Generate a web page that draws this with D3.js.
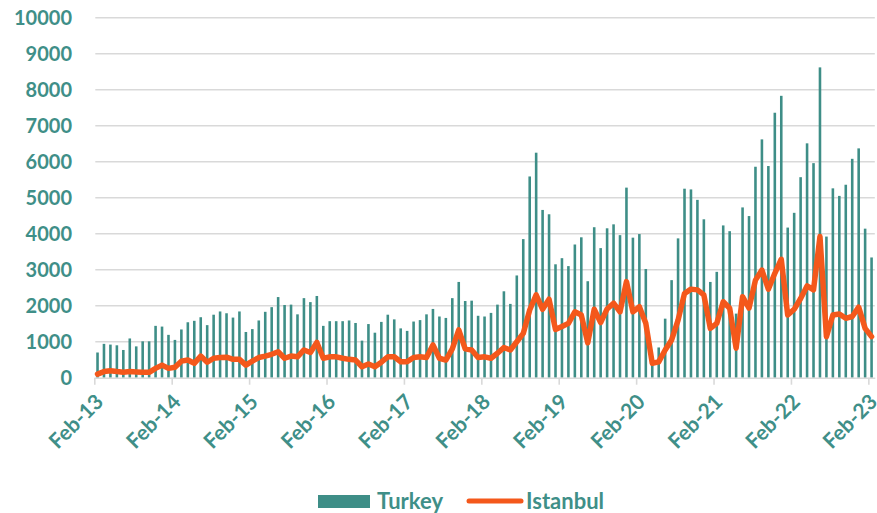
<!DOCTYPE html>
<html>
<head>
<meta charset="utf-8">
<script src="https://cdn.jsdelivr.net/npm/d3@7"></script>
<style>
  body { margin: 0; background: #fff; }
  svg { display: block; font-family: Lato, "Open Sans", sans-serif; }
</style>
</head>
<body>
<svg id="chart" width="877" height="513"></svg>
<script>
// monthly, Feb-13 .. Feb-23
const months = d3.utcMonth.range(new Date(Date.UTC(2013, 1, 1)), new Date(Date.UTC(2023, 2, 1)));

const turkey = [
  700, 940, 920, 900, 770, 1090, 870, 1010, 1010, 1440, 1420, 1190,
  1050, 1340, 1540, 1580, 1680, 1460, 1750, 1840, 1790, 1670, 1840, 1270,
  1350, 1590, 1830, 1960, 2240, 2020, 2030, 1760, 2210, 2100, 2270, 1440,
  1570, 1570, 1570, 1590, 1520, 1030, 1490, 1250, 1550, 1750, 1620, 1370,
  1300, 1560, 1600, 1760, 1910, 1700, 1660, 2210, 2660, 2130, 2140, 1720,
  1700, 1800, 2030, 2400, 2050, 2840, 3850, 5590, 6250, 4660, 4540, 3150,
  3320, 3100, 3700, 3900, 2680, 4180, 3600, 4150, 4260, 3960, 5280, 3890,
  3990, 3020, 380, 840, 1640, 2710, 3870, 5250, 5230, 4940, 4400, 2660,
  2940, 4230, 4070, 1780, 4730, 4490, 5860, 6620, 5880, 7360, 7830, 4170,
  4580, 5570, 6510, 5960, 8620, 3920, 5260, 5050, 5360, 6080, 6370, 4140,
  3340
];

const istanbul = [
  100, 170, 195, 170, 150, 170, 160, 150, 150, 260, 350, 260,
  290, 460, 490, 400, 600, 430, 540, 560, 570, 510, 510, 350,
  460, 560, 600, 650, 720, 540, 600, 580, 770, 700, 980, 540,
  580, 580, 540, 510, 490, 305, 380, 305, 430, 580, 580, 445,
  445, 560, 580, 560, 910, 540, 490, 800, 1330, 800, 770, 560,
  580, 540, 680, 840, 770, 1000, 1230, 1880, 2300, 1900, 2180, 1340,
  1420, 1510, 1830, 1740, 970, 1900, 1530, 1910, 2070, 1830, 2670, 1830,
  1970, 1510, 400, 440, 770, 1050, 1600, 2340, 2460, 2440, 2300, 1370,
  1510, 2110, 1930, 820, 2250, 1930, 2710, 2990, 2460, 2900, 3290, 1740,
  1900, 2200, 2550, 2440, 3920, 1140, 1740, 1770, 1650, 1700, 1960, 1370,
  1140
];

const yTicks = [0, 1000, 2000, 3000, 4000, 5000, 6000, 7000, 8000, 9000, 10000];
const xTickLabels = ["Feb-13", "Feb-14", "Feb-15", "Feb-16", "Feb-17", "Feb-18",
  "Feb-19", "Feb-20", "Feb-21", "Feb-22", "Feb-23"];
const seriesNames = ["Turkey", "Istanbul"];

const teal = "#3e8e87";
const orange = "#f4581b";
const textColor = "#3f8f88";
const gridColor = "#d9d9d9";

const svg = d3.select("#chart");
const plotLeft = 94.3, plotRight = 874.8, plotTop = 17.7, plotBottom = 377.7;

const x = d3.scaleBand()
  .domain(d3.range(months.length))
  .range([plotLeft, plotRight])
  .paddingInner(0.6)
  .paddingOuter(0.3);

// category boundaries, for ticks at each February
const xEdge = d3.scaleLinear().domain([0, months.length]).range([plotLeft, plotRight]);

const y = d3.scaleLinear().domain([0, 10000]).range([plotBottom, plotTop]);

// gridlines
svg.append("g")
  .selectAll("line")
  .data(yTicks.filter(d => d > 0))
  .join("line")
  .attr("x1", plotLeft + 1)
  .attr("x2", plotRight)
  .attr("y1", d => y(d))
  .attr("y2", d => y(d))
  .attr("stroke", gridColor)
  .attr("stroke-width", 1.6);

// y labels
svg.append("g")
  .selectAll("text")
  .data(yTicks)
  .join("text")
  .attr("x", 72)
  .attr("y", d => y(d))
  .attr("dy", "0.36em")
  .attr("text-anchor", "end")
  .attr("fill", textColor)
  .attr("font-weight", 700)
  .attr("font-size", 20)
  .text(d => d);

// bars
svg.append("g")
  .selectAll("rect")
  .data(turkey)
  .join("rect")
  .attr("x", (d, i) => x(i))
  .attr("width", x.bandwidth())
  .attr("y", d => y(d))
  .attr("height", d => y(0) - y(d))
  .attr("fill", teal);

// x axis
const xAxis = d3.axisBottom(xEdge)
  .tickValues(d3.range(0, months.length, 12))
  .tickFormat(() => "")
  .tickSize(7)
  .tickSizeOuter(0);

const gx = svg.append("g")
  .attr("transform", `translate(0,${plotBottom})`)
  .call(xAxis);
gx.select(".domain").attr("stroke", gridColor).attr("stroke-width", 1.6);
gx.selectAll(".tick line").attr("stroke", gridColor).attr("stroke-width", 1.6);

svg.append("g")
  .selectAll("text")
  .data(xTickLabels)
  .join("text")
  .attr("transform", (d, i) => `translate(${xEdge(i * 12) + 5},${plotBottom + 20}) rotate(-45)`)
  .attr("text-anchor", "end")
  .attr("dy", "0.36em")
  .attr("fill", textColor)
  .attr("font-weight", 700)
  .attr("font-size", 21)
  .text(d => d);

// Istanbul line
const line = d3.line()
  .x((d, i) => x(i) + x.bandwidth() / 2)
  .y(d => y(d));

svg.append("path")
  .datum(istanbul)
  .attr("d", line)
  .attr("fill", "none")
  .attr("stroke", orange)
  .attr("stroke-width", 5.5)
  .attr("stroke-linejoin", "round")
  .attr("stroke-linecap", "round");

// legend
const legend = svg.append("g").attr("font-weight", 700).attr("font-size", 22).attr("fill", textColor);
legend.append("rect")
  .attr("x", 318).attr("y", 495).attr("width", 52).attr("height", 13)
  .attr("fill", teal);
legend.append("text").attr("x", 377).attr("y", 509).text(seriesNames[0]);
legend.append("line")
  .attr("x1", 469).attr("x2", 521).attr("y1", 501).attr("y2", 501)
  .attr("stroke", orange).attr("stroke-width", 5).attr("stroke-linecap", "round");
legend.append("text").attr("x", 526).attr("y", 509).text(seriesNames[1]);
</script>
</body>
</html>
